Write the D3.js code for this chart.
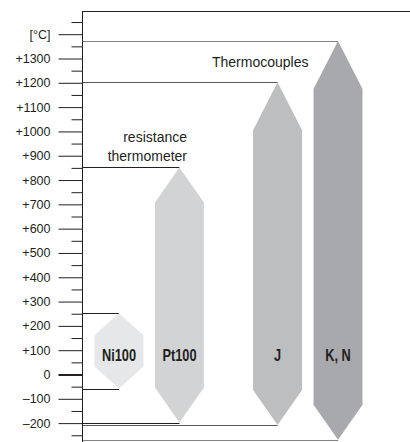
<!DOCTYPE html>
<html>
<head>
<meta charset="utf-8">
<script src="https://cdn.jsdelivr.net/npm/d3@7/dist/d3.min.js"></script>
<style>
  body { margin: 0; background: #fff; }
  svg { display: block; }
  text { font-family: "Liberation Sans", Arial, sans-serif; fill: #231f20; }
</style>
</head>
<body>
<svg id="chart" width="410" height="442"></svg>
<script>
// sensor ranges in degC
const groups = ['resistance thermometer', 'Thermocouples']
const sensors = ['Ni100', 'Pt100', 'J', 'K, N']
const sensorGroup = ['resistance thermometer', 'resistance thermometer', 'Thermocouples', 'Thermocouples']
const rangeLow = [-60, -200, -210, -270]
const rangeHigh = [250, 850, 1200, 1370]

// axis ticks
const majorTicks = [-200, -100, 0, 100, 200, 300, 400, 500, 600, 700, 800, 900, 1000, 1100, 1200, 1300, 1400]
const majorLabels = ['–200', '–100', '0', '+100', '+200', '+300', '+400', '+500', '+600', '+700', '+800', '+900', '+1000', '+1100', '+1200', '+1300', '[°C]']
const minorTicks = [-250, -150, -50, 50, 150, 250, 350, 450, 550, 650, 750, 850, 950, 1050, 1150, 1250, 1350, 1450]

const fills = ['#e6e7e8', '#d1d3d4', '#bcbec0', '#a7a9ac']
const lineColors = ['#231f20', '#231f20', '#58595b', '#808285']
const tipTop = [22, 35, 48, 48]
const tipBottom = [22, 35, 35, 35]

const svg = d3.select('#chart')
const axisX = 82.5

const y = d3.scaleLinear().domain([0, 1300]).range([374, 58])

const xGroup = d3.scaleBand().domain(groups).range([94.5, 362.5]).paddingInner(0.31).paddingOuter(0)
const xInner = d3.scaleBand().domain([0, 1]).range([0, xGroup.bandwidth()]).paddingInner(0.19)

const data = sensors.map((name, i) => {
  const inGroup = sensorGroup.slice(0, i).filter(g => g === sensorGroup[i]).length
  const x0 = xGroup(sensorGroup[i]) + xInner(inGroup)
  return {
    name, i, lo: rangeLow[i], hi: rangeHigh[i],
    x0, w: xInner.bandwidth(), cx: x0 + xInner.bandwidth() / 2
  }
})

// leader lines from the axis to the tips
data.forEach(d => {
  [d.hi, d.lo].forEach(v => {
    svg.append('line')
      .attr('x1', axisX).attr('x2', d.cx)
      .attr('y1', Math.round(y(v)) + 0.5).attr('y2', Math.round(y(v)) + 0.5)
      .attr('stroke', lineColors[d.i]).attr('stroke-width', 1)
  })
})

// arrow shapes
svg.selectAll('polygon.sensor')
  .data(data)
  .join('polygon')
  .attr('class', 'sensor')
  .attr('fill', d => fills[d.i])
  .attr('points', d => {
    const yt = y(d.hi), yb = y(d.lo)
    return [
      [d.cx, yt],
      [d.x0 + d.w, yt + tipTop[d.i]],
      [d.x0 + d.w, yb - tipBottom[d.i]],
      [d.cx, yb],
      [d.x0, yb - tipBottom[d.i]],
      [d.x0, yt + tipTop[d.i]]
    ].map(p => p.join(',')).join(' ')
  })

// condensed bold labels (no narrow font installed, so squeeze horizontally)
svg.selectAll('text.sensor')
  .data(data)
  .join('text')
  .attr('class', 'sensor')
  .attr('transform', d => `translate(${d.cx},360.5) scale(0.8,1)`)
  .attr('text-anchor', 'middle')
  .style('font-weight', 'bold')
  .style('font-size', '16px')
  .text(d => d.name)

// group labels
svg.append('text')
  .attr('x', 187).attr('text-anchor', 'end')
  .style('font-size', '14px')
  .selectAll('tspan')
  .data(['resistance', 'thermometer'])
  .join('tspan')
  .attr('x', 187)
  .attr('y', (d, i) => 141.5 + i * 19)
  .text(d => d)

svg.append('text')
  .attr('x', 212).attr('y', 66.5)
  .style('font-size', '14px')
  .text(groups[1])

// frame
svg.append('line')
  .attr('x1', axisX).attr('x2', 410)
  .attr('y1', 11.5).attr('y2', 11.5)
  .attr('stroke', '#231f20')
svg.append('line')
  .attr('x1', axisX).attr('x2', axisX)
  .attr('y1', 11).attr('y2', 442)
  .attr('stroke', '#231f20')

// axes
const majorAxis = d3.axisLeft(y)
  .tickValues(majorTicks)
  .tickSize(24)
  .tickPadding(8)
  .tickFormat((d, i) => majorLabels[i])

const gMajor = svg.append('g')
  .attr('transform', `translate(${axisX},0.5)`)
  .call(majorAxis)
gMajor.select('.domain').remove()
gMajor.selectAll('.tick line').attr('stroke', '#231f20')
  .attr('stroke-width', d => d === 0 ? 2 : 1)
gMajor.selectAll('.tick text')
  .style('font-family', '"Liberation Sans", Arial, sans-serif')
  .style('font-size', '12.5px')
  .attr('fill', '#231f20')

const gMinor = svg.append('g')
  .attr('transform', `translate(${axisX},0.5)`)
  .call(d3.axisLeft(y).tickValues(minorTicks).tickSize(11).tickFormat(''))
gMinor.select('.domain').remove()
gMinor.selectAll('.tick line').attr('stroke', '#231f20')
</script>
</body>
</html>
